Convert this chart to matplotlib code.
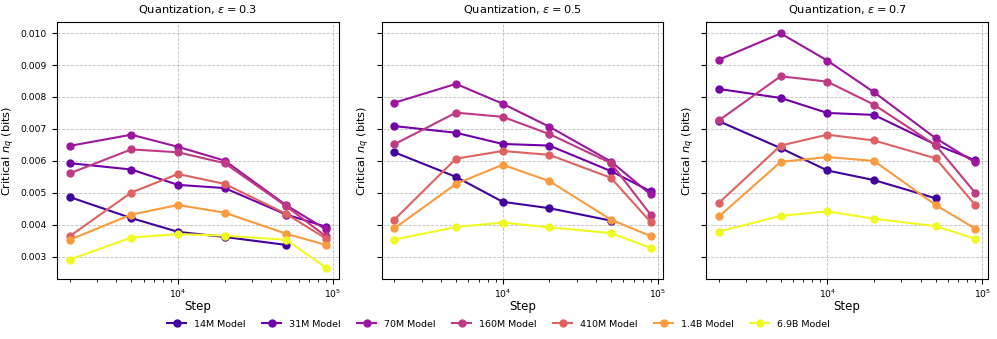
import numpy as np
import matplotlib
matplotlib.use('Agg')
import matplotlib.pyplot as plt

# Daten
steps = [2000, 5000, 10000, 20000, 50000, 90000]
models = ['14M Model', '31M Model', '70M Model', '160M Model', '410M Model', '1.4B Model', '6.9B Model']
model_params = [14e6, 31e6, 70e6, 160e6, 410e6, 1.4e9, 6.9e9]
epsilons = [0.3, 0.5, 0.7]

# eps = 0.3
eps03 = [
    [0.00487, 0.00421, 0.00378, 0.00362, 0.00337],
    [0.00593, 0.00573, 0.00525, 0.00515, 0.00432, 0.00394],
    [0.00647, 0.00682, 0.00644, 0.00601, 0.00461, 0.00386],
    [0.00561, 0.00636, 0.00627, 0.00593, 0.00458, 0.00364],
    [0.00364, 0.00501, 0.00559, 0.00528, 0.00434, 0.00357],
    [0.00353, 0.00432, 0.00462, 0.00438, 0.00372, 0.00337],
    [0.00291, 0.00360, 0.00371, 0.00366, 0.00353, 0.00266],
]
# eps = 0.5
eps05 = [
    [0.00627, 0.00550, 0.00472, 0.00452, 0.00413],
    [0.00709, 0.00688, 0.00653, 0.00648, 0.00568, 0.00505],
    [0.00782, 0.00841, 0.00779, 0.00707, 0.00598, 0.00495],
    [0.00652, 0.00751, 0.00738, 0.00684, 0.00593, 0.00432],
    [0.00416, 0.00607, 0.00631, 0.00619, 0.00547, 0.00409],
    [0.00389, 0.00528, 0.00588, 0.00537, 0.00416, 0.00365],
    [0.00354, 0.00393, 0.00407, 0.00392, 0.00374, 0.00328],
]
# eps = 0.7
eps07 = [
    [0.00724, 0.00640, 0.00570, 0.00540, 0.00483],
    [0.00825, 0.00797, 0.00750, 0.00744, 0.00651, 0.00602],
    [0.00917, 0.00999, 0.00914, 0.00815, 0.00671, 0.00595],
    [0.00727, 0.00865, 0.00848, 0.00776, 0.00649, 0.00500],
    [0.00469, 0.00648, 0.00682, 0.00664, 0.00608, 0.00462],
    [0.00426, 0.00597, 0.00612, 0.00600, 0.00462, 0.00388],
    [0.00379, 0.00428, 0.00442, 0.00419, 0.00396, 0.00356],
]
all_data = [eps03, eps05, eps07]

# Farben nach log(Modellgroesse)
logp = np.log10(model_params)
norm = (logp - logp.min()) / (logp.max() - logp.min())
colors = plt.cm.plasma(0.1 + 0.9 * norm)

fig, axes = plt.subplots(1, 3, figsize=(9.97, 3.39), dpi=100, sharey=True)
fig.subplots_adjust(left=0.057, right=0.991, top=0.936, bottom=0.176, wspace=0.152)

for ax, eps, data in zip(axes, epsilons, all_data):
    for i, name in enumerate(models):
        vals = data[i]
        ax.plot(steps[:len(vals)], vals, marker='o', color=colors[i],
                markersize=5, linewidth=1.5, label=name)
    ax.set_xscale('log')
    ax.set_title(r'Quantization, $\epsilon = $' + str(eps), fontsize=8.2)
    ax.set_xlabel('Step', fontsize=8.5, labelpad=0)
    ax.set_ylabel(r'Critical $n_q$ (bits)', fontsize=8.2, labelpad=3)
    ax.tick_params(labelsize=6.6)
    ax.tick_params(axis='x', pad=2.5)
    ax.grid(True, linestyle='--', linewidth=0.6, color='gray', alpha=0.5)
    ax.tick_params(axis='y', labelleft=(ax is axes[0]))

handles, labels = axes[0].get_legend_handles_labels()
fig.legend(handles, labels, loc='lower center', ncol=7, frameon=False,
           fontsize=6.8, columnspacing=1.8, bbox_to_anchor=(0.5, 0.005))

plt.savefig('out.png', dpi=100)
